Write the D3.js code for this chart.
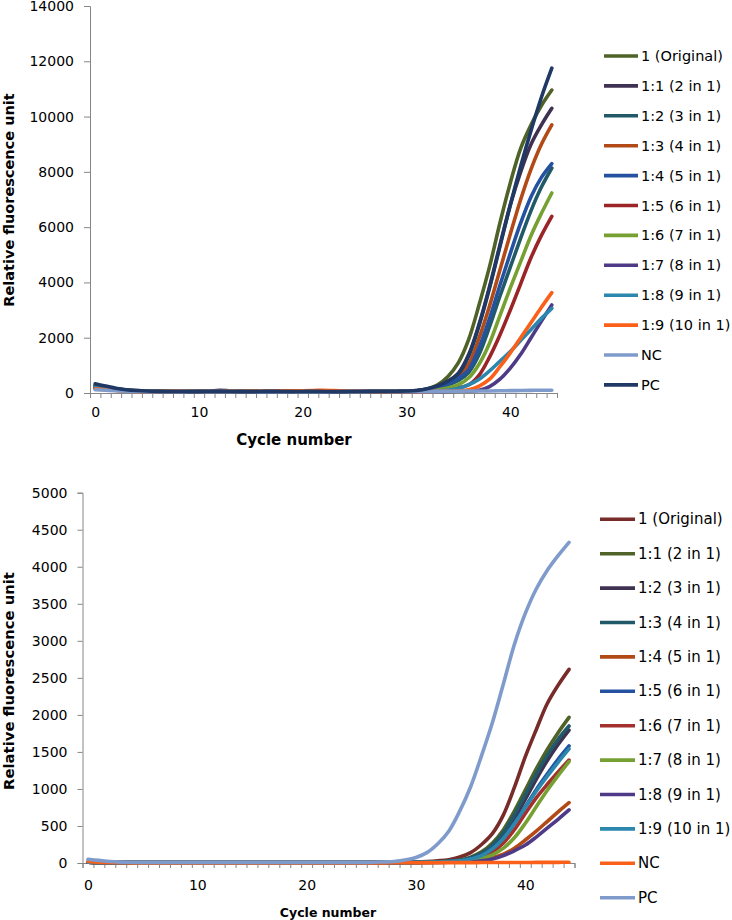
<!DOCTYPE html>
<html>
<head>
<meta charset="utf-8">
<script src="https://cdn.jsdelivr.net/npm/d3@7"></script>
<style>
  html, body { margin: 0; padding: 0; background: #fff; }
  svg { display: block; font-family: "DejaVu Sans", Verdana, sans-serif; }
</style>
</head>
<body>
<svg id="chart" width="732" height="920"></svg>
<script>
// ---------- DATA ----------
const cycles = [0,1,2,3,4,5,6,7,8,9,10,11,12,13,14,15,16,17,18,19,20,21,22,23,24,25,26,27,28,29,30,31,32,33,34,35,36,37,38,39,40,41,42,43,44];
const xTickLabels = [0,10,20,30,40];
const topYTicks = [0,2000,4000,6000,8000,10000,12000,14000];
const bottomYTicks = [0,500,1000,1500,2000,2500,3000,3500,4000,4500,5000];

const topNames = ["1 (Original)","1:1 (2 in 1)","1:2 (3 in 1)","1:3 (4 in 1)","1:4 (5 in 1)","1:5 (6 in 1)","1:6 (7 in 1)","1:7 (8 in 1)","1:8 (9 in 1)","1:9 (10 in 1)","NC","PC"];
const topColors = ["#4F6228","#3F3151","#215968","#B24A17","#2452A0","#9B2426","#76A032","#4E3A86","#2B87AD","#FA6019","#7E9BCB","#1F3864"];

const topOriginal = [250,190,130,95,75,60,55,60,75,70,60,55,50,55,60,65,70,75,70,65,60,55,50,55,60,55,50,55,60,65,70,80,150,300,600,1100,1950,3200,4570,6150,7600,8850,9700,10400,10960];
const top1to1 = [280,210,150,110,85,70,60,55,60,65,60,70,100,75,55,50,50,55,55,60,55,50,50,55,55,50,50,55,60,60,65,85,140,250,420,720,1400,2500,3850,5350,6800,8000,9000,9700,10300];
const top1to2 = [230,180,130,95,75,65,55,55,60,55,50,50,55,60,55,55,50,55,60,65,60,55,50,50,55,55,60,60,55,60,65,75,110,170,290,450,750,1400,2400,3500,4550,5600,6600,7450,8140];
const top1to3 = [200,160,120,90,70,60,55,50,55,60,55,50,50,55,60,65,60,55,55,60,70,75,70,60,55,50,50,55,55,60,60,75,120,200,340,580,1050,2000,3150,4450,5750,7000,8100,9000,9700];
const top1to4 = [260,200,140,100,80,65,55,55,50,55,60,55,55,50,55,60,55,55,60,55,50,55,60,55,50,55,60,55,60,60,65,80,120,190,320,530,850,1650,2700,3900,5050,6150,7100,7800,8300];
const top1to5 = [180,140,100,80,65,55,50,55,60,55,50,50,55,55,50,55,60,60,55,50,55,55,60,55,50,50,55,55,60,55,55,60,70,90,130,190,300,650,1300,2100,3000,3950,4900,5700,6390];
const top1to6 = [220,170,120,90,70,60,55,60,65,60,55,50,55,60,55,60,65,70,65,60,55,55,50,55,55,60,55,55,60,60,60,70,90,110,180,300,550,1050,1800,2800,3800,4750,5700,6500,7236];
const top1to7 = [190,150,110,85,70,60,55,55,60,55,50,55,60,55,50,50,55,60,55,55,60,55,50,50,55,55,60,55,55,50,50,55,55,60,60,65,70,100,230,500,900,1400,2000,2600,3183];
const top1to8 = [210,160,115,85,70,60,55,55,50,55,55,60,55,55,60,55,50,55,60,60,55,55,60,65,60,55,50,55,55,60,60,65,70,80,100,160,300,500,800,1150,1500,1900,2300,2700,3063];
const top1to9 = [150,120,90,70,60,55,50,55,60,55,50,55,55,60,55,60,65,70,70,75,80,90,100,85,70,60,55,50,50,55,55,60,60,65,65,70,120,250,500,950,1450,2000,2550,3100,3630];
const topNC = [120,100,80,65,55,50,45,45,50,50,45,45,50,50,45,45,50,50,45,45,50,50,45,45,50,50,50,55,55,55,55,60,60,60,65,65,70,70,75,80,85,90,95,100,100];
const topPC = [330,250,170,120,90,70,60,55,55,50,50,55,60,55,50,50,55,60,55,50,55,60,55,50,50,55,55,60,60,65,70,90,150,260,430,700,1350,2450,3800,5300,6800,8200,9500,10700,11750];

const bottomNames = ["1 (Original)","1:1 (2 in 1)","1:2 (3 in 1)","1:3 (4 in 1)","1:4 (5 in 1)","1:5 (6 in 1)","1:6 (7 in 1)","1:7 (8 in 1)","1:8 (9 in 1)","1:9 (10 in 1)","NC","PC"];
const bottomColors = ["#772C2A","#4F6228","#3F3151","#215968","#B24A17","#2452A0","#A3302C","#76A032","#4E3A86","#2B87AD","#FA6019","#7E9BCB"];

const botOriginal = [12,9,6,5,5,5,5,5,5,5,5,5,5,5,5,5,5,5,5,5,5,5,5,5,5,5,6,7,9,11,14,20,30,45,80,140,250,400,650,1020,1435,1800,2150,2400,2615];
const bot1to1 = [10,8,6,5,5,5,5,5,5,5,5,5,5,5,5,5,5,5,5,5,5,5,5,5,5,5,5,6,7,8,9,11,15,25,40,80,150,270,450,700,985,1270,1530,1760,1967];
const bot1to2 = [10,8,6,5,5,5,5,5,5,5,5,5,5,5,5,5,5,5,5,5,5,5,5,5,5,5,5,6,7,8,9,10,13,20,30,60,115,215,370,600,860,1130,1380,1600,1795];
const bot1to3 = [10,8,6,5,5,5,5,5,5,5,5,5,5,5,5,5,5,5,5,5,5,5,5,5,5,5,5,6,7,8,9,10,14,22,35,70,130,240,410,650,920,1200,1450,1670,1850];
const bot1to4 = [10,8,6,5,5,5,5,5,5,5,5,5,5,5,5,5,5,5,5,5,5,5,5,5,5,5,5,5,6,6,7,8,9,11,14,20,40,70,120,200,310,430,560,690,814];
const bot1to5 = [10,8,6,5,5,5,5,5,5,5,5,5,5,5,5,5,5,5,5,5,5,5,5,5,5,5,5,6,7,8,9,10,13,20,30,55,105,200,340,540,760,990,1200,1400,1580];
const bot1to6 = [10,8,6,5,5,5,5,5,5,5,5,5,5,5,5,5,5,5,5,5,5,5,5,5,5,5,5,5,6,7,8,9,11,15,20,40,80,150,270,450,670,880,1060,1230,1390];
const bot1to7 = [10,8,6,5,5,5,5,5,5,5,5,5,5,5,5,5,5,5,5,5,5,5,5,5,5,5,5,5,6,6,7,8,10,13,18,30,60,110,200,340,536,760,980,1180,1368];
const bot1to8 = [10,8,6,5,5,5,5,5,5,5,5,5,5,5,5,5,5,5,5,5,5,5,5,5,5,5,5,5,5,6,6,7,8,10,12,15,30,55,100,165,243,350,470,590,716];
const bot1to9 = [10,8,6,5,5,5,5,5,5,5,5,5,5,5,5,5,5,5,5,5,5,5,5,5,5,5,5,6,7,8,9,10,13,19,30,55,100,190,330,530,750,970,1170,1360,1540];
const botNC = [22,12,6,3,2,2,2,2,2,2,2,2,2,2,2,2,2,2,2,2,2,2,2,2,2,2,2,2,3,3,3,4,4,5,5,5,6,6,6,7,7,8,8,9,10];
const botPC = [50,35,20,12,10,8,8,8,8,8,8,8,8,8,8,8,8,8,8,8,8,8,8,8,8,8,10,14,20,40,75,140,260,430,700,1030,1450,1900,2420,2950,3370,3700,3950,4150,4330];

const topSeries = [topOriginal, top1to1, top1to2, top1to3, top1to4, top1to5, top1to6, top1to7, top1to8, top1to9, topNC, topPC];
const bottomSeries = [botOriginal, bot1to1, bot1to2, bot1to3, bot1to4, bot1to5, bot1to6, bot1to7, bot1to8, bot1to9, botNC, botPC];

// ---------- DRAW ----------
const svg = d3.select("#chart");
const AXIS = "#868686";

function drawPanel(cfg) {
  const g = svg.append("g");
  const x = d3.scaleLinear().domain([-0.5, cycles.length - 0.5]).range([cfg.x0, cfg.x1]);
  const y = d3.scaleLinear().domain([0, cfg.yMax]).range([cfg.yBottom, cfg.yTop]);

  // y axis
  const ya = g.append("g").attr("transform", `translate(${cfg.x0},0)`)
    .call(d3.axisLeft(y).tickValues(cfg.yTicks).tickSize(cfg.yTickSize).tickPadding(cfg.yPad).tickFormat(d3.format("d")));
  ya.select(".domain").attr("stroke", AXIS);
  ya.selectAll(".tick line").attr("stroke", AXIS);
  ya.selectAll(".tick text").attr("fill", "#000").style("font-size", cfg.tickFont + "px").style("font-family", "DejaVu Sans, Verdana, sans-serif");

  // x axis: minor ticks between categories
  const halfTicks = cycles.map(c => c - 0.5).concat([cycles[cycles.length - 1] + 0.5]);
  const xa = g.append("g").attr("transform", `translate(0,${cfg.yBottom})`)
    .call(d3.axisBottom(x).tickValues(halfTicks).tickSize(5).tickFormat(""));
  xa.select(".domain").attr("stroke", AXIS);
  xa.selectAll(".tick line").attr("stroke", AXIS);
  const xl = g.append("g").attr("transform", `translate(0,${cfg.yBottom})`)
    .call(d3.axisBottom(x).tickValues(xTickLabels).tickSize(0).tickPadding(cfg.xPad).tickFormat(d3.format("d")));
  xl.select(".domain").remove();
  xl.selectAll(".tick text").attr("fill", "#000").style("font-size", cfg.tickFont + "px").style("font-family", "DejaVu Sans, Verdana, sans-serif");

  // lines
  const line = d3.line().x((d, i) => x(cycles[i])).y(d => y(d)).curve(d3.curveCatmullRom.alpha(0.5));
  cfg.series.forEach((s, i) => {
    g.append("path").attr("d", line(s)).attr("fill", "none")
      .attr("stroke", cfg.colors[i]).attr("stroke-width", 3.6)
      .attr("stroke-linejoin", "round").attr("stroke-linecap", "round");
  });

  // titles
  g.append("text").attr("transform", `translate(${cfg.yTitleX},${cfg.yTitleY}) rotate(-90)`)
    .attr("text-anchor", "middle").style("font-weight", "bold").style("font-size", cfg.yTitleFont + "px")
    .text("Relative fluorescence unit");
  g.append("text").attr("x", cfg.xTitleX).attr("y", cfg.xTitleY)
    .attr("text-anchor", "middle").attr("dominant-baseline", "central")
    .style("font-weight", "bold").style("font-size", cfg.xTitleFont + "px")
    .text("Cycle number");

  // legend
  const lg = g.append("g");
  cfg.names.forEach((n, i) => {
    const yy = cfg.legY0 + i * cfg.legStep;
    lg.append("line").attr("x1", cfg.legX0).attr("x2", cfg.legX1).attr("y1", yy).attr("y2", yy)
      .attr("stroke", cfg.colors[i]).attr("stroke-width", 3.6);
    lg.append("text").attr("x", cfg.legX1 + 3).attr("y", yy).attr("dominant-baseline", "central")
      .style("font-size", cfg.legFont + "px").text(n);
  });
}

drawPanel({
  x0: 90, x1: 557, yTop: 6, yBottom: 393, yMax: 14000, yTicks: topYTicks,
  yTickSize: 6, yPad: 10, xPad: 14, tickFont: 14,
  series: topSeries, colors: topColors, names: topNames,
  yTitleX: 13.5, yTitleY: 200, yTitleFont: 14.5,
  xTitleX: 294, xTitleY: 440, xTitleFont: 15,
  legX0: 604, legX1: 638, legY0: 56, legStep: 29.9, legFont: 14.5
});

drawPanel({
  x0: 82.5, x1: 574.5, yTop: 492.7, yBottom: 863, yMax: 5000, yTicks: bottomYTicks,
  yTickSize: 5, yPad: 10, xPad: 17, tickFont: 14,
  series: bottomSeries, colors: bottomColors, names: bottomNames,
  yTitleX: 13.5, yTitleY: 681, yTitleFont: 14.8,
  xTitleX: 328, xTitleY: 912, xTitleFont: 12.5,
  legX0: 600, legX1: 635, legY0: 519.3, legStep: 34.4, legFont: 15
});
</script>
</body>
</html>
